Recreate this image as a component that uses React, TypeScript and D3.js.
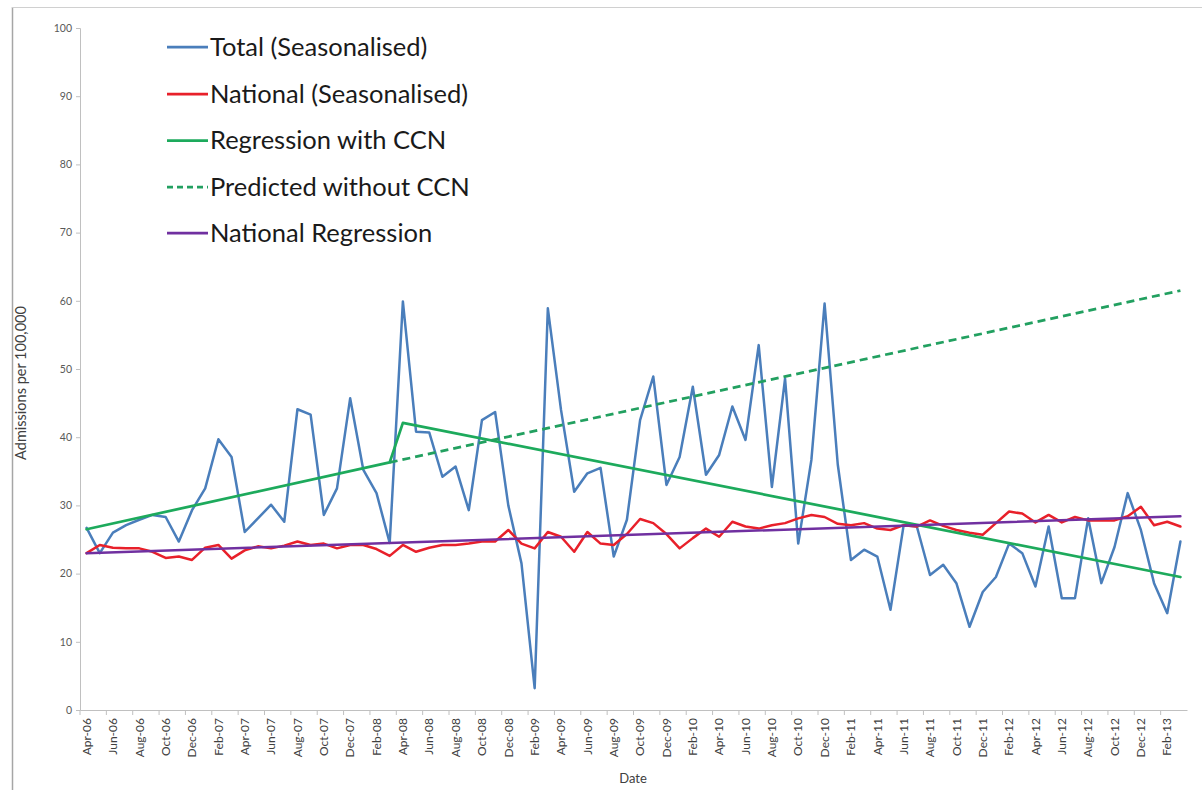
import { useEffect, useRef } from 'react';
import * as d3 from 'd3';

// Monthly categories, Apr-06 .. Mar-13
const months = [
  'Apr-06', 'May-06', 'Jun-06', 'Jul-06', 'Aug-06', 'Sep-06', 'Oct-06', 'Nov-06', 'Dec-06', 'Jan-07', 'Feb-07', 'Mar-07',
  'Apr-07', 'May-07', 'Jun-07', 'Jul-07', 'Aug-07', 'Sep-07', 'Oct-07', 'Nov-07', 'Dec-07', 'Jan-08', 'Feb-08', 'Mar-08',
  'Apr-08', 'May-08', 'Jun-08', 'Jul-08', 'Aug-08', 'Sep-08', 'Oct-08', 'Nov-08', 'Dec-08', 'Jan-09', 'Feb-09', 'Mar-09',
  'Apr-09', 'May-09', 'Jun-09', 'Jul-09', 'Aug-09', 'Sep-09', 'Oct-09', 'Nov-09', 'Dec-09', 'Jan-10', 'Feb-10', 'Mar-10',
  'Apr-10', 'May-10', 'Jun-10', 'Jul-10', 'Aug-10', 'Sep-10', 'Oct-10', 'Nov-10', 'Dec-10', 'Jan-11', 'Feb-11', 'Mar-11',
  'Apr-11', 'May-11', 'Jun-11', 'Jul-11', 'Aug-11', 'Sep-11', 'Oct-11', 'Nov-11', 'Dec-11', 'Jan-12', 'Feb-12', 'Mar-12',
  'Apr-12', 'May-12', 'Jun-12', 'Jul-12', 'Aug-12', 'Sep-12', 'Oct-12', 'Nov-12', 'Dec-12', 'Jan-13', 'Feb-13', 'Mar-13',
];

const totalSeasonalised = [
  26.7, 23.0, 26.0, 27.1, 27.9, 28.6, 28.3, 24.7, 29.3, 32.5, 39.7, 37.1,
  26.1, 28.1, 30.1, 27.6, 44.1, 43.3, 28.6, 32.5, 45.7, 35.2, 31.8, 24.5,
  59.9, 40.8, 40.7, 34.2, 35.7, 29.3, 42.5, 43.7, 30.0, 21.5, 3.2, 58.9,
  44.0, 32.0, 34.7, 35.5, 22.5, 27.9, 42.5, 48.9, 33.0, 37.1, 47.4, 34.5,
  37.4, 44.5, 39.6, 53.5, 32.7, 48.6, 24.4, 36.7, 59.6, 36.0, 22.0, 23.5,
  22.5, 14.7, 27.1, 26.9, 19.8, 21.3, 18.6, 12.2, 17.3, 19.5, 24.4, 23.0,
  18.1, 26.9, 16.4, 16.4, 28.1, 18.6, 23.9, 31.8, 26.4, 18.6, 14.2, 24.7,
];

const nationalSeasonalised = [
  23.0, 24.2, 23.8, 23.7, 23.7, 23.2, 22.3, 22.5, 22.0, 23.8, 24.2, 22.2,
  23.4, 24.0, 23.7, 24.1, 24.7, 24.2, 24.4, 23.7, 24.2, 24.2, 23.6, 22.6,
  24.2, 23.2, 23.8, 24.2, 24.2, 24.4, 24.7, 24.7, 26.4, 24.4, 23.7, 26.1,
  25.4, 23.2, 26.1, 24.4, 24.2, 25.8, 28.0, 27.4, 25.8, 23.7, 25.2, 26.6,
  25.4, 27.6, 26.9, 26.6, 27.1, 27.4, 28.1, 28.6, 28.3, 27.3, 27.1, 27.4,
  26.6, 26.4, 27.1, 26.9, 27.8, 27.0, 26.4, 26.0, 25.7, 27.4, 29.1, 28.8,
  27.5, 28.6, 27.5, 28.3, 27.8, 27.8, 27.8, 28.4, 29.8, 27.1, 27.6, 26.9,
];

// Straight regression lines: category index -> value at the break points
const regressionIdx = [0, 23, 24, 83];
const regressionVals = [26.5, 36.3, 42.1, 19.5];
const predictedIdx = [23, 83];
const predictedVals = [36.3, 61.5];
const nationalRegIdx = [0, 83];
const nationalRegVals = [23.0, 28.4];

const yTicks = [0, 10, 20, 30, 40, 50, 60, 70, 80, 90, 100];

const legendItems = [
  { label: 'Total (Seasonalised)', color: '#4a7ebb', dash: null },
  { label: 'National (Seasonalised)', color: '#e8202a', dash: null },
  { label: 'Regression with CCN', color: '#1daa5c', dash: null },
  { label: 'Predicted without CCN', color: '#22a060', dash: '6,4' },
  { label: 'National Regression', color: '#7030a0', dash: null },
];

const FONT = 'Lato, "Liberation Sans", sans-serif';

const App = () => {
  const svgRef = useRef<SVGSVGElement | null>(null);

  useEffect(() => {
    const svg = d3.select(svgRef.current);
    svg.selectAll('*').remove();

    const left = 80;
    const right = 1187;
    const top = 28;
    const bottom = 710;

    const x = d3.scaleBand().domain(months).range([left, right]).padding(0);
    const y = d3.scaleLinear().domain([0, 100]).range([bottom, top]);
    const cx = (i: number) => (x(months[i]) as number) + x.bandwidth() / 2;

    // outer chart frame
    svg.append('line').attr('x1', 12.5).attr('x2', 12.5).attr('y1', 7).attr('y2', 790)
      .attr('stroke', '#a6a6a6').attr('stroke-width', 1.5);
    svg.append('line').attr('x1', 12).attr('x2', 1202).attr('y1', 7.5).attr('y2', 7.5)
      .attr('stroke', '#d0d0d0').attr('stroke-width', 1);

    // y axis
    const yAxis = svg.append('g').attr('transform', `translate(${left},0)`)
      .call(d3.axisLeft(y).tickValues(yTicks).tickSize(4).tickPadding(4));
    yAxis.select('.domain').attr('stroke', '#c0c0c0');
    yAxis.selectAll('.tick line').attr('stroke', '#c0c0c0');
    yAxis.selectAll('.tick text')
      .attr('fill', '#595959').style('font-family', FONT).style('font-size', '10.5px');

    // x axis: labels every second month, ticks between them
    const xAxis = svg.append('g').attr('transform', `translate(0,${bottom})`)
      .call(d3.axisBottom(x).tickValues(months.filter((_, i) => i % 2 === 0)).tickSize(0).tickPadding(6));
    xAxis.select('.domain').attr('stroke', '#c0c0c0');
    xAxis.selectAll('.tick text')
      .attr('transform', 'rotate(-90)')
      .attr('x', -8).attr('y', 0).attr('dy', '0.35em')
      .style('text-anchor', 'end')
      .attr('fill', '#404040').style('font-family', FONT).style('font-size', '12px');
    svg.append('g').selectAll('line')
      .data(months.filter((_, i) => i % 2 === 0))
      .enter().append('line')
      .attr('x1', d => x(d) as number).attr('x2', d => x(d) as number)
      .attr('y1', bottom).attr('y2', bottom + 5)
      .attr('stroke', '#c0c0c0');

    // axis titles
    svg.append('text')
      .attr('x', 633).attr('y', 783)
      .attr('text-anchor', 'middle')
      .attr('fill', '#404040').style('font-family', FONT).style('font-size', '13px')
      .text('Date');
    svg.append('text')
      .attr('transform', 'translate(26,383) rotate(-90)')
      .attr('text-anchor', 'middle')
      .attr('fill', '#404040').style('font-family', FONT).style('font-size', '14.5px')
      .text('Admissions per 100,000');

    const line = d3.line<[number, number]>().x(d => d[0]).y(d => d[1]);
    const seriesPts = (vals: number[]) => vals.map((v, i) => [cx(i), y(v)] as [number, number]);
    const keyPts = (idx: number[], vals: number[]) => idx.map((k, j) => [cx(k), y(vals[j])] as [number, number]);

    const draw = (pts: [number, number][], color: string, width: number, dash: string | null) => {
      const p = svg.append('path')
        .attr('d', line(pts))
        .attr('fill', 'none')
        .attr('stroke', color)
        .attr('stroke-width', width)
        .attr('stroke-linejoin', 'round')
        .attr('stroke-linecap', 'round');
      if (dash) p.attr('stroke-dasharray', dash).attr('stroke-linecap', 'butt');
    };

    draw(seriesPts(totalSeasonalised), legendItems[0].color, 2.5, null);
    draw(seriesPts(nationalSeasonalised), legendItems[1].color, 2.5, null);
    draw(keyPts(regressionIdx, regressionVals), legendItems[2].color, 2.75, null);
    draw(keyPts(predictedIdx, predictedVals), legendItems[3].color, 2.75, '8,5');
    draw(keyPts(nationalRegIdx, nationalRegVals), legendItems[4].color, 2.5, null);

    // legend
    const legend = svg.append('g');
    const rowY = [47, 94, 140.5, 187, 233];
    legendItems.forEach((item, i) => {
      const g = legend.append('g').attr('transform', `translate(0,${rowY[i]})`);
      g.append('line')
        .attr('x1', 167).attr('x2', 208).attr('y1', 0).attr('y2', 0)
        .attr('stroke', item.color).attr('stroke-width', 2.75)
        .attr('stroke-dasharray', item.dash);
      g.append('text')
        .attr('x', 210).attr('y', 0).attr('dy', '0.35em')
        .attr('fill', '#1a1a1a')
        .style('font-family', FONT).style('font-size', '25.5px')
        .text(item.label);
    });
  }, []);

  return (
    <div style={{ position: 'absolute', left: 0, top: 0, width: 1202, height: 790, background: '#fff' }}>
      <svg ref={svgRef} width={1202} height={790}></svg>
    </div>
  );
};

export default App;
